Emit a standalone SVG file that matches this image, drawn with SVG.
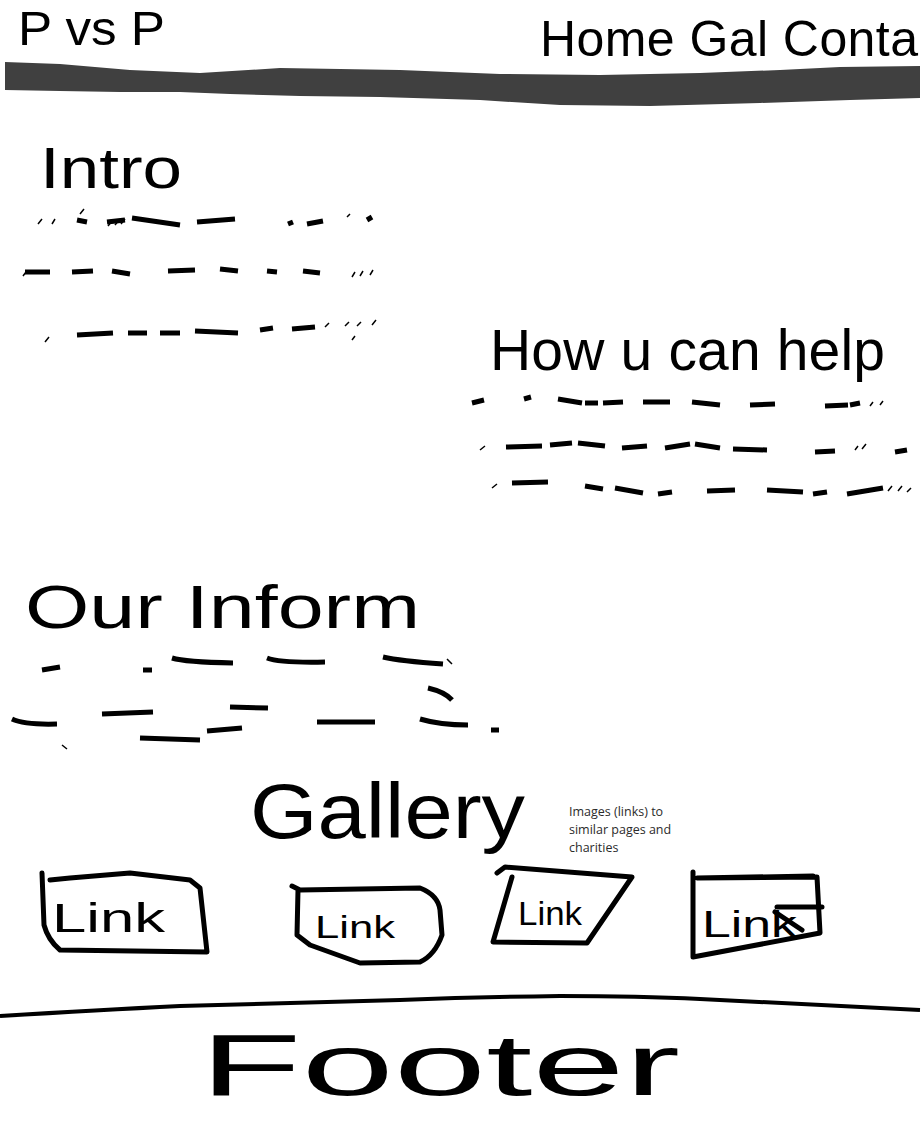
<svg xmlns="http://www.w3.org/2000/svg" width="922" height="1144" viewBox="0 0 922 1144">
<style>
.hand{font-family:"Liberation Sans",Arial,sans-serif;fill:#000}
.dash{stroke:#000;stroke-width:5;fill:none;stroke-linecap:butt}
.thin{stroke:#000;stroke-width:1.5;fill:none}
.box{stroke:#000;stroke-width:5;fill:none;stroke-linejoin:round;stroke-linecap:round}
.note{font-family:"Open Sans","Liberation Sans",sans-serif;font-size:12.5px;fill:#2b2b2b}
</style>
<rect width="922" height="1144" fill="#fff"/>
<g id="header">
<text class="hand" x="18" y="45" font-size="48" textLength="147" lengthAdjust="spacingAndGlyphs">P vs P</text>
<text class="hand" x="540" y="56" font-size="50" textLength="378" lengthAdjust="spacing">Home Gal Conta</text>
<path d="M5,62 L60,64 L130,70 L200,73 L280,68 L400,70 L500,74 L600,75 L700,73 L780,70 L840,67 L920,66 L920,98 L850,100 L760,103 L650,106 L560,105 L480,100 L380,97 L300,96 L230,94 L180,92 L120,92 L60,91 L5,90 Z" fill="#404040"/>
</g>
<g id="intro">
<text class="hand" x="40" y="188" font-size="58" textLength="142" lengthAdjust="spacingAndGlyphs">Intro</text>
<g class="dash">
<path d="M77,220 L87,222 M107,222 L125,220 M132,218 L180,225 M197,222 L235,219 M288,224 L293,222 M307,224 L323,221 M367,220 L372,217" />
<path d="M25,272 L50,272 M72,272 L93,271 M112,271 L130,274 M168,271 L195,270 M220,269 L238,271 M267,271 L277,272 M303,271 L320,273" />
<path d="M77,335 L113,333 M128,333 L147,333 M160,333 L180,333 M195,331 L238,333 M260,330 L273,328 M292,329 L315,327" />
</g>
<g class="thin">
<path d="M38,224 L42,219 M52,224 L55,219 M80,214 L84,209 M108,226 L112,221 M115,225 L119,220 M121,224 L125,219 M347,217 L350,214 M352,340 L355,336 M45,342 L49,337" />
<path d="M23,276 L26,272 M352,277 L355,272 M360,276 L363,271 M370,275 L373,270" />
<path d="M325,327 L329,323 M345,326 L349,322 M357,326 L361,322 M372,325 L376,320" />
</g>
</g>
<g id="help">
<text class="hand" x="490" y="370" font-size="57" textLength="395" lengthAdjust="spacing">How u can help</text>
<g class="dash">
<path d="M472,403 L484,400 M524,399 L531,397 M558,399 L582,403 M585,403 L598,403 M603,403 L623,402 M643,402 L670,402 M692,402 L720,405 M750,405 L775,404 M825,406 L848,405 M850,405 L860,403" />
<path d="M506,447 L542,446 M550,445 L572,443 M578,443 L605,446 M622,448 L647,446 M665,448 L690,444 M695,444 L720,448 M733,449 L767,450 M815,452 L835,451 M895,452 L907,450" />
<path d="M512,483 L548,482 M585,486 L603,489 M615,488 L643,493 M658,494 L672,492 M707,491 L735,490 M767,490 L803,492 M813,494 L827,492 M847,494 L883,488" />
</g>
<g class="thin">
<path d="M870,406 L873,402 M880,405 L883,401 M855,450 L858,446 M862,449 L866,444 M480,450 L485,446 M492,488 L497,484" />
<path d="M888,491 L892,486 M898,491 L902,486 M907,492 L911,488" />
</g>
</g>
<g id="inform">
<text class="hand" x="25" y="628" font-size="62" textLength="395" lengthAdjust="spacingAndGlyphs">Our Inform</text>
<g class="dash">
<path d="M42,670 L60,667 M143,670 L152,670 M172,658 Q185,662 233,663 M267,658 Q280,663 325,662 M383,657 Q400,661 443,664" />
<path d="M428,688 Q445,692 452,700" />
<path d="M12,719 Q25,725 57,724 M102,714 L153,712 M230,707 L268,708 M140,738 L200,740 M207,731 L242,728 M317,722 L375,722 M420,719 Q440,725 468,725 M491,730 L499,730" />
</g>
<path class="thin" d="M447,659 L452,664 M62,745 L67,749" />
</g>
<g id="gallery">
<text class="hand" x="250" y="838" font-size="78" textLength="275" lengthAdjust="spacingAndGlyphs">Gallery</text>
<text class="note" x="569" y="816">Images (links) to</text>
<text class="note" x="569" y="834">similar pages and</text>
<text class="note" x="569" y="852">charities</text>
</g>
<g id="link1">
<path class="box" d="M42,873 L44,925 Q48,940 60,950 L207,952 L200,888 L190,880 L130,873 L70,878 L50,880"/>
<text class="hand" x="52" y="932" font-size="40" textLength="113" lengthAdjust="spacingAndGlyphs">Link</text>
</g>
<g id="link2">
<path class="box" d="M292,886 L300,890 L420,888 Q438,895 440,910 L442,935 Q435,955 420,962 L360,963 L310,945 L297,935 L298,890"/>
<text class="hand" x="315" y="938" font-size="32" textLength="80" lengthAdjust="spacingAndGlyphs">Link</text>
</g>
<g id="link3">
<path class="box" d="M497,873 L505,867 L632,877 L587,943 L493,942 L512,877"/>
<text class="hand" x="518" y="925" font-size="34" textLength="64" lengthAdjust="spacingAndGlyphs">Link</text>
</g>
<g id="link4">
<path class="box" d="M693,872 L693,957 L820,933 L817,877 L697,878 L813,876"/>
<path class="box" d="M777,907 L822,907 M775,912 L802,930"/>
<text class="hand" x="702" y="937" font-size="36" textLength="95" lengthAdjust="spacingAndGlyphs">Link</text>
</g>
<g id="footer">
<path d="M0,1016 Q100,1010 180,1006 L400,1000 Q480,997 560,996 Q640,996 700,999 L920,1010" stroke="#000" stroke-width="4" fill="none"/>
<text class="hand" x="200" y="1095" font-size="88" textLength="480" lengthAdjust="spacingAndGlyphs">Footer</text>
</g>
</svg>
